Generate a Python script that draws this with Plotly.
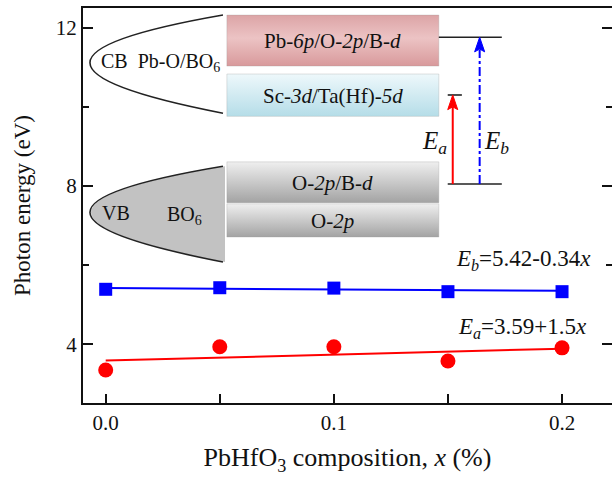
import plotly.graph_objects as go

# ---------------- data ----------------
x_comp = [0.0, 0.05, 0.10, 0.15, 0.20]
E_b = [5.39, 5.43, 5.42, 5.33, 5.33]
E_a = [3.35, 3.94, 3.94, 3.58, 3.91]
fit_x = [0.0, 0.20]
fit_b = [5.42, 5.352]
fit_a = [3.59, 3.89]

x_ticks = [0.0, 0.1, 0.2]
x_ticklabels = ["0.0", "0.1", "0.2"]
y_ticks = [4, 8, 12]

FONT = "Liberation Serif"
XR = [-0.00995, 0.2219]
YR = [2.517, 12.498]

fig = go.Figure()

# ---------------- schematic (inset band diagram) ----------------
def box(x0, x1, y0, y1, cs, name):
    fig.add_trace(go.Scatter(
        x=[x0, x1, x1, x0, x0], y=[y0, y0, y1, y1, y0], mode="lines",
        fill="toself", line=dict(color="rgba(150,150,150,0.35)", width=0.8),
        fillgradient=dict(type="vertical", colorscale=cs, start=y0, stop=y1),
        hoverinfo="skip", showlegend=False, name=name))

bx0, bx1 = 0.0531, 0.146
box(bx0, bx1, 11.03, 12.32, [[0, "#d8999b"], [0.55, "#ecc3c4"], [1, "#dca4a6"]], "pink")
box(bx0, bx1, 9.76, 10.83, [[0, "#b5dde8"], [1, "#eef8fb"]], "blue")
box(bx0, bx1, 7.58, 8.61, [[0, "#a3a3a3"], [1, "#efefef"]], "gray1")
box(bx0, bx1, 6.71, 7.55, [[0, "#a3a3a3"], [1, "#efefef"]], "gray2")

shapes = []
# CB parabola (outline only)
shapes.append(dict(type="path", xref="x", yref="y",
                   path="M 0.0514,12.32 Q -0.0652,11.15 0.0514,9.84",
                   line=dict(color="#222", width=1.6)))
# VB parabola filled gray
shapes.append(dict(type="path", xref="x", yref="y",
                   path="M 0.0523,8.50 Q -0.0652,7.38 0.0523,6.08 Z",
                   fillcolor="#c2c2c2", line=dict(width=0), layer="below"))
shapes.append(dict(type="path", xref="x", yref="y",
                   path="M 0.0514,8.50 Q -0.0652,7.38 0.0514,6.08",
                   line=dict(color="#222", width=1.6)))
# energy levels
shapes.append(dict(type="line", xref="x", yref="y", x0=0.146, x1=0.1736, y0=11.76, y1=11.76,
                   line=dict(color="#222", width=1.6)))
shapes.append(dict(type="line", xref="x", yref="y", x0=0.1499, x1=0.1561, y0=10.30, y1=10.30,
                   line=dict(color="#222", width=1.6)))
shapes.append(dict(type="line", xref="x", yref="y", x0=0.1499, x1=0.1736, y0=8.05, y1=8.05,
                   line=dict(color="#222", width=1.6)))
# red arrow (Ea)
shapes.append(dict(type="line", xref="x", yref="y", x0=0.1521, x1=0.1521, y0=8.05, y1=10.0,
                   line=dict(color="#ff0000", width=2)))
shapes.append(dict(type="path", xref="x", yref="y",
                   path="M 0.1521,10.30 L 0.1499,9.93 L 0.1521,10.0 L 0.1543,9.93 Z",
                   fillcolor="#ff0000", line=dict(color="#ff0000", width=1)))
# blue dash-dot arrow (Eb)
shapes.append(dict(type="line", xref="x", yref="y", x0=0.1639, x1=0.1639, y0=8.05, y1=11.45,
                   line=dict(color="#0000ff", width=2, dash="dashdot")))
shapes.append(dict(type="path", xref="x", yref="y",
                   path="M 0.1639,11.76 L 0.1617,11.39 L 0.1639,11.46 L 0.1661,11.39 Z",
                   fillcolor="#0000ff", line=dict(color="#0000ff", width=1)))

# ---------------- data traces ----------------
fig.add_trace(go.Scatter(x=fit_x, y=fit_b, mode="lines", line=dict(color="#0000ff", width=2),
                         showlegend=False, hoverinfo="skip"))
fig.add_trace(go.Scatter(x=x_comp, y=E_b, mode="markers",
                         marker=dict(symbol="square", size=13, color="#0000ff"), showlegend=False))
fig.add_trace(go.Scatter(x=fit_x, y=fit_a, mode="lines", line=dict(color="#ff0000", width=2),
                         showlegend=False, hoverinfo="skip"))
fig.add_trace(go.Scatter(x=x_comp, y=E_a, mode="markers",
                         marker=dict(symbol="circle", size=15, color="#ff0000"), showlegend=False))
# dummy trace for right-side tick axis
fig.add_trace(go.Scatter(x=[None], y=[None], yaxis="y2", showlegend=False, hoverinfo="skip"))

# ---------------- annotations ----------------
ann = []
def txt(x, y, s, size=18, xanchor="center"):
    ann.append(dict(x=x, y=y, xref="x", yref="y", text=s, showarrow=False,
                    xanchor=xanchor, yanchor="middle",
                    font=dict(family=FONT, size=size, color="#111")))

txt(-0.0028, 11.13, "CB  Pb-O/BO<sub>6</sub>", 20, "left")
txt(0.0045, 7.33, "VB", 20)
txt(0.0345, 7.26, "BO<sub>6</sub>", 20)
txt(0.0996, 11.66, "Pb-<i>6p</i>/O-<i>2p</i>/B-<i>d</i>", 21)
txt(0.0996, 10.27, "Sc-<i>3d</i>/Ta(Hf)-<i>5d</i>", 21)
txt(0.0996, 8.07, "O-<i>2p</i>/B-<i>d</i>", 21)
txt(0.0996, 7.12, "O-<i>2p</i>", 21)
txt(0.1440, 9.10, "<i>E</i><sub><i>a</i></sub>", 25)
txt(0.1712, 9.10, "<i>E</i><sub><i>b</i></sub>", 25)
txt(0.2135, 6.12, "<i>E</i><sub><i>b</i></sub>=5.42-0.34<i>x</i>", 23, "right")
txt(0.2118, 4.42, "<i>E</i><sub><i>a</i></sub>=3.59+1.5<i>x</i>", 23, "right")

fig.update_layout(
    width=612, height=479,
    margin=dict(l=83, r=0, t=8, b=76),
    paper_bgcolor="white", plot_bgcolor="white",
    shapes=shapes, annotations=ann,
    font=dict(family=FONT, size=21, color="#111"),
    xaxis=dict(range=XR, showgrid=False, zeroline=False,
               showline=True, linecolor="#111", linewidth=2, mirror=True,
               ticks="inside", ticklen=9, tickwidth=1.5, tickcolor="#111",
               tickvals=x_ticks, ticktext=x_ticklabels,
               minor=dict(ticks="inside", tickvals=[0.05, 0.15], ticklen=9, tickwidth=1.5, tickcolor="#111"),
               tickfont=dict(family=FONT, size=21, color="#111"),
               title=dict(text="PbHfO<sub>3</sub> composition, <i>x</i> (%)",
                          font=dict(family=FONT, size=26, color="#111"), standoff=14)),
    yaxis=dict(range=YR, showgrid=False, zeroline=False,
               showline=True, linecolor="#111", linewidth=2, mirror=False,
               ticks="inside", ticklen=10, tickwidth=1.5, tickcolor="#111",
               tickvals=y_ticks,
               minor=dict(ticks="inside", tickvals=[6, 10], ticklen=6, tickwidth=1.5, tickcolor="#111"),
               tickfont=dict(family=FONT, size=21, color="#111"),
               title=dict(text="Photon energy (eV)",
                          font=dict(family=FONT, size=23, color="#111"), standoff=19)),
    yaxis2=dict(range=YR, overlaying="y", side="right", showgrid=False, zeroline=False,
                showline=False, showticklabels=False,
                ticks="inside", ticklen=10, tickwidth=1.5, tickcolor="#111",
                tickvals=y_ticks,
                minor=dict(ticks="inside", tickvals=[6, 10], ticklen=6, tickwidth=1.5, tickcolor="#111")),
)

fig.write_html("out.html")
